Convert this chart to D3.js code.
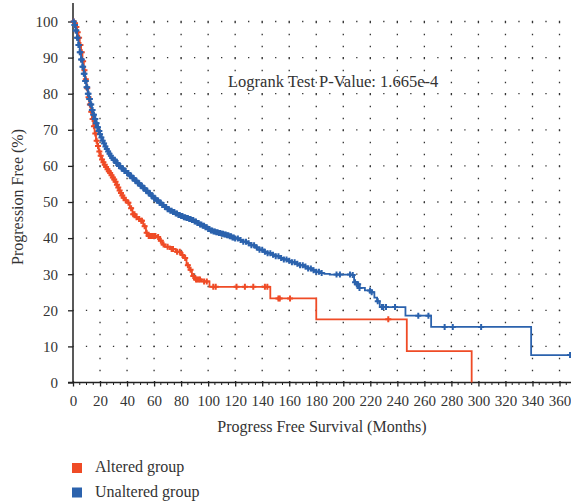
<!DOCTYPE html>
<html>
<head>
<meta charset="utf-8">
<script src="https://cdn.jsdelivr.net/npm/d3@7"></script>
<style>
  html, body { margin: 0; padding: 0; background: #fff; }
  svg { display: block; font-family: "Liberation Serif", "DejaVu Serif", serif; }
</style>
</head>
<body>
<svg id="chart" width="571" height="504"></svg>
<script>
// Kaplan–Meier progression-free survival, altered vs unaltered group

const xTicks = [0, 20, 40, 60, 80, 100, 120, 140, 160, 180, 200, 220, 240, 260, 280, 300, 320, 340, 360];
const yTicks = [0, 10, 20, 30, 40, 50, 60, 70, 80, 90, 100];

// Altered group: event times (months) and survival (%) after each step
const alteredTimes = [0,1,2,3,4,5,6,7,8,9,10,11,12,13,14,15,16,17,18,19,20,21,22,23,24,25,26,27,28,29,30,31,32,33,34,35,36,37,38,40,42,44,46,48,50,52,54,55,62,64,66,68,72,76,80,82,84,86,88,90,95,101,146,180,247,295];
const alteredSurvival = [100,99.5,98.5,97,95.5,93.5,91.5,89,86.5,84,81.5,79,77,75,73,71,69,67,65.5,64,62.8,61.8,61,60.3,59.7,59.1,58.5,58,57.4,56.8,56.2,55.6,54.8,54,53.2,52.5,51.8,51.2,50.5,49.8,48.3,46.6,45.8,45.3,44.8,43.3,41.5,40.6,40.3,39.3,38.2,37.6,37,36.2,35.3,34.5,32.5,31.2,29.5,28.5,28,26.5,23.3,17.5,8.7,0];
const alteredCensored = [0.5,1.5,2.5,3.5,4.5,5.5,6.5,7.5,8.5,9.5,10.5,11.5,12.5,13.5,14.5,15.5,16.5,17.5,18.5,19.5,20.5,21.5,22.5,23.5,24.5,25.5,26.5,27.5,28.5,29.5,30.5,31.5,32.5,33.5,34.5,35.5,36.5,37.5,39,41,43,44.5,45.5,47,49,50.5,51,53,54.5,56,57,58,59,60,61,63,65,67,70,73,74,77,79,81,83,85,87,89,91,92,93,94,97,99,103.8,105.6,121,127.2,133.4,142,143.8,152,153,160.6,233.3];

// Unaltered group
const unalteredTimes = [0,1,2,3,4,5,6,7,8,9,10,11,12,13,14,15,16,17,18,19,20,21,22,23,24,25,26,27,28,29,30,32,34,36,38,40,42,44,46,48,50,52,54,56,58,60,62,64,66,68,70,72,74,76,78,80,82,84,86,88,90,92,94,96,98,100,102,104,106,108,110,112,114,116,118,120,123,126,129,132,135,138,141,144,147,150,153,156,159,162,165,168,171,174,177,180,183,186,190,206,208,210,212,216,220,223,225,227,246,265,339];
const unalteredSurvival = [100,99,97.5,95.5,93.5,91.5,89.5,87.5,85.5,83.5,81.8,80,78.5,77,75.5,74.2,73,71.8,70.7,69.7,68.8,67.9,67,66.2,65.4,64.7,64,63.4,62.8,62.2,61.7,60.8,60,59.3,58.6,58,57.3,56.6,55.9,55.2,54.5,53.8,53.1,52.4,51.7,51,50.4,49.8,49.2,48.6,48,47.6,47.2,46.8,46.4,46.1,45.8,45.6,45.3,45,44.6,44.2,43.8,43.4,43,42.5,42.1,41.8,41.6,41.4,41.2,41,40.8,40.5,40.2,39.9,39.5,39,38.6,38,37.4,36.8,36.2,35.8,35.4,35,34.5,34.1,33.7,33.3,32.9,32.5,32.1,31.6,31.1,30.7,30.3,30.1,29.9,29.8,27.8,27.2,26.2,25.5,25,23.5,22.5,20.9,18.5,15.4,7.6];
const unalteredCensored = [0.5,1,1.5,2,2.5,3,3.5,4,4.5,5,5.5,6,6.5,7,7.5,8,8.5,9,9.5,10,10.5,11,11.5,12,12.5,13,13.5,14,14.5,15,15.5,16,16.5,17,17.5,18,18.5,19,19.5,20,21,22,23,24,25,26,27,28,29,30,31,32,33,34,35,36,37,38,39,40,41,42,43,44,45,46,47,48,49,50,51,52,53,54,55,56,57,58,59,60,61,62,63,64,65,66,67,68,69,70,71,72,73,74,75,76,77,78,79,80,81,82,83,84,85,86,87,88,89,90,91,92,93,94,95,96,97,98,99,100,101,102,103,104,105,106,107,108,109,110,111,112,113,114,115,116,117,118,119,120,122,124,126,128,130,132,134,136,138,140,142,144,146,148,150,152,154,156,158,160,162,164,166,168,170,172,174,176,178,180,182,184,195,197.5,205,207,208.7,210,211,212,219.8,221,225.5,228.6,229.6,231.6,238.3,255.5,263,275,281,302,367.8];

const xMax = 368.5;
const groups = ["Altered group", "Unaltered group"];
const colors = ["#ef4b26", "#2b62ad"];
const pValueText = "Logrank Test P-Value: 1.665e-4";

const svg = d3.select("#chart");
const x = d3.scaleLinear().domain([0, xMax]).range([73, 571]);
const y = d3.scaleLinear().domain([0, 100]).range([382.5, 21.5]);

const textColor = "#333";

// dotted grid
const grid = svg.append("g");
grid.selectAll("line.v").data(xTicks.filter(d => d > 0)).join("line")
  .attr("x1", d => x(d)).attr("x2", d => x(d))
  .attr("y1", y(0)).attr("y2", y(100) - 1)
  .attr("stroke", "#333").attr("stroke-width", 1.3)
  .attr("stroke-dasharray", "1.3,10.7").attr("stroke-dashoffset", 0.65);
grid.selectAll("line.h").data(yTicks.filter(d => d > 0)).join("line")
  .attr("x1", x(0)).attr("x2", 571)
  .attr("y1", d => y(d)).attr("y2", d => y(d))
  .attr("stroke", "#333").attr("stroke-width", 1.3)
  .attr("stroke-dasharray", "1.3," + (x(10) - x(0) - 1.3)).attr("stroke-dashoffset", 0.65 - (x(10) - x(0)));

// x axis
const xAxis = svg.append("g").attr("transform", `translate(0,${y(0)})`)
  .call(d3.axisBottom(x).tickValues(xTicks).tickSize(4).tickPadding(9).tickFormat(d3.format("d")));
xAxis.select(".domain").remove();
xAxis.append("line").attr("x1", x(0) - 5).attr("x2", 571).attr("stroke", "#222").attr("stroke-width", 1.5);
xAxis.selectAll(".tick line").attr("y1", -1.5).attr("stroke", "#222").attr("stroke-width", 1.3);
xAxis.selectAll(".tick text").attr("fill", textColor).style("font-size", "15px").style("font-family", "Liberation Serif");
const minor = d3.range(5, xMax, 5).filter(d => d % 20 !== 0);
xAxis.selectAll("line.minor").data(minor).join("line").attr("class", "minor")
  .attr("x1", d => x(d)).attr("x2", d => x(d)).attr("y1", 0).attr("y2", 2.5)
  .attr("stroke", "#222").attr("stroke-width", 1);

// y axis
const yAxis = svg.append("g").attr("transform", `translate(${x(0)},0)`)
  .call(d3.axisLeft(y).tickValues(yTicks).tickSize(5).tickPadding(10));
yAxis.select(".domain").remove();
yAxis.append("line").attr("y1", 3).attr("y2", y(0)).attr("stroke", "#222").attr("stroke-width", 1.5);
yAxis.selectAll(".tick line").attr("stroke", "#222").attr("stroke-width", 1.3);
yAxis.selectAll(".tick text").attr("fill", textColor).style("font-size", "15px").style("font-family", "Liberation Serif");

// axis titles
svg.append("text").attr("x", 322).attr("y", 432).attr("text-anchor", "middle")
  .attr("fill", textColor).style("font-size", "16px").text("Progress Free Survival (Months)");
svg.append("text").attr("transform", "translate(23,197) rotate(-90)").attr("text-anchor", "middle")
  .attr("fill", textColor).style("font-size", "16px").text("Progression Free (%)");

// p-value annotation
svg.append("text").attr("x", 228).attr("y", 87).attr("fill", textColor)
  .style("font-size", "16.5px").text(pValueText);

// survival curves
function drawGroup(times, surv, censored, color, endTime) {
  const pts = times.map((t, i) => [t, surv[i]]);
  const last = pts[pts.length - 1];
  if (endTime > last[0]) pts.push([endTime, last[1]]);
  const line = d3.line().x(d => x(d[0])).y(d => y(d[1])).curve(d3.curveStepAfter);
  svg.append("path").attr("d", line(pts)).attr("fill", "none")
    .attr("stroke", color).attr("stroke-width", 1.8);
  const bis = d3.bisector(d => d).right;
  const survAt = t => surv[Math.max(0, bis(times, t) - 1)];
  const s = 3;
  svg.append("g").selectAll("path").data(censored).join("path")
    .attr("d", t => {
      const cx = x(t), cy = y(survAt(t));
      return `M${cx - s},${cy}H${cx + s}M${cx},${cy - s}V${cy + s}`;
    })
    .attr("stroke", color).attr("stroke-width", 2).attr("fill", "none");
}
drawGroup(alteredTimes, alteredSurvival, alteredCensored, colors[0], 295);
drawGroup(unalteredTimes, unalteredSurvival, unalteredCensored, colors[1], xMax);

// legend
const legend = svg.append("g");
groups.forEach((g, i) => {
  legend.append("rect").attr("x", 72).attr("y", 463 + i * 24.5).attr("width", 10).attr("height", 10).attr("fill", colors[i]);
  legend.append("text").attr("x", 95).attr("y", 472 + i * 24.5).attr("fill", textColor)
    .style("font-size", "16px").text(g);
});
</script>
</body>
</html>
